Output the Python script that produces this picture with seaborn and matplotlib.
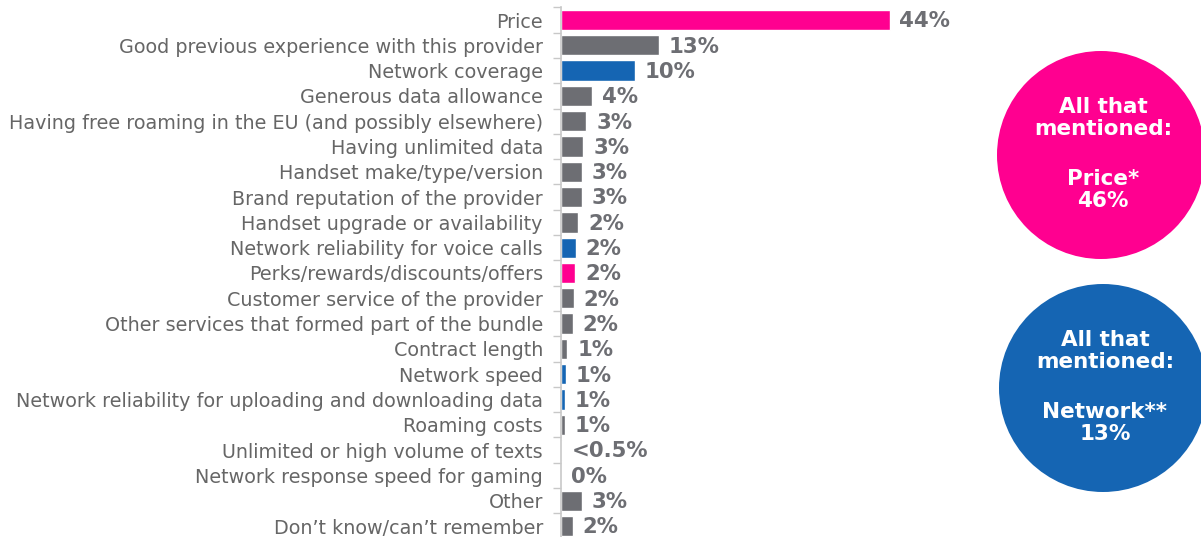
import matplotlib
matplotlib.use("Agg")
import matplotlib.pyplot as plt
from matplotlib.patches import Circle
from matplotlib.ticker import FixedLocator
import pandas as pd
import seaborn as sns

sns.set_theme(style="white")
plt.rcParams['font.family'] = ['DejaVu Sans']

# Reasons for choosing a provider (share of respondents, %)
reasons = [
    "Price",
    "Good previous experience with this provider",
    "Network coverage",
    "Generous data allowance",
    "Having free roaming in the EU (and possibly elsewhere)",
    "Having unlimited data",
    "Handset make/type/version",
    "Brand reputation of the provider",
    "Handset upgrade or availability",
    "Network reliability for voice calls",
    "Perks/rewards/discounts/offers",
    "Customer service of the provider",
    "Other services that formed part of the bundle",
    "Contract length",
    "Network speed",
    "Network reliability for uploading and downloading data",
    "Roaming costs",
    "Unlimited or high volume of texts",
    "Network response speed for gaming",
    "Other",
    "Don\u2019t know/can\u2019t remember",
]
shares = [44.0, 13.1, 9.9, 4.15, 3.4, 3.0, 2.85, 2.8, 2.3, 2.0, 1.9, 1.7,
          1.55, 0.85, 0.7, 0.58, 0.48, 0.15, 0.0, 2.85, 1.55]
value_labels = ["44%", "13%", "10%", "4%", "3%", "3%", "3%", "3%", "2%", "2%",
                "2%", "2%", "2%", "1%", "1%", "1%", "1%", "<0.5%", "0%", "3%", "2%"]
groups = ["price", "other", "network", "other", "other", "other", "other",
          "other", "other", "network", "price", "other", "other", "other",
          "network", "network", "other", "other", "network", "other", "other"]

group_colors = {"price": "#FF0090", "network": "#1565B3", "other": "#6D6E73"}

# circle call-outs
circle_titles = ["All that\nmentioned:", "All that\nmentioned:"]
circle_values = ["Price*\n46%", "Network**\n13%"]
circle_groups = ["price", "network"]

df = pd.DataFrame({"reason": reasons, "share": shares, "group": groups})
palette = {r: group_colors[g] for r, g in zip(reasons, groups)}

W, H = 1201, 537
fig = plt.figure(figsize=(W / 100, H / 100), dpi=100)

row = 25.3
top_px = 20 - row / 2
bottom_px = top_px + row * len(reasons)
ax = fig.add_axes([561 / W, 1 - bottom_px / H, 399 / W, (bottom_px - top_px) / H])

sns.barplot(data=df, y="reason", x="share", hue="reason", palette=palette,
            legend=False, orient="h", width=0.8, ax=ax, saturation=1)

ax.set_xlim(0, 399 / 7.47)
ax.set_ylim(len(reasons) - 0.5, -0.5)
ax.set_xlabel("")
ax.set_ylabel("")
ax.set_xticks([])
for side in ["top", "right", "bottom"]:
    ax.spines[side].set_visible(False)
ax.spines["left"].set_color("#C8C8C8")
ax.spines["left"].set_linewidth(1.2)

ax.tick_params(axis="y", which="major", length=0, pad=13,
               labelsize=13.8, labelcolor="#666666")
ax.yaxis.set_minor_locator(FixedLocator([i - 0.5 for i in range(len(reasons) + 1)]))
ax.tick_params(axis="y", which="minor", length=6, width=1, color="#C8C8C8",
               direction="out", left=True)

for i, (v, lab) in enumerate(zip(shares, value_labels)):
    ax.annotate(lab, xy=(v, i), xytext=(7, -1), textcoords="offset points",
                va="center", ha="left", fontsize=15.3, fontweight="bold",
                color="#6D6E73")

# overlay in pixel coordinates for the call-out circles
ov = fig.add_axes([0, 0, 1, 1], zorder=5)
ov.set_xlim(0, W)
ov.set_ylim(H, 0)
ov.axis("off")
centers = [(1101, 155), (1103, 388)]
for (cx, cy), title, val, g in zip(centers, circle_titles, circle_values, circle_groups):
    ov.add_patch(Circle((cx, cy), 104, color=group_colors[g], lw=0))
    ov.text(cx + 2, cy - 37, title, ha="center", va="center", color="white",
            fontsize=15.5, fontweight="bold", linespacing=1.1)
    ov.text(cx + 2, cy + 35, val, ha="center", va="center", color="white",
            fontsize=15.5, fontweight="bold", linespacing=1.1)

fig.savefig("out.png", dpi=100)
